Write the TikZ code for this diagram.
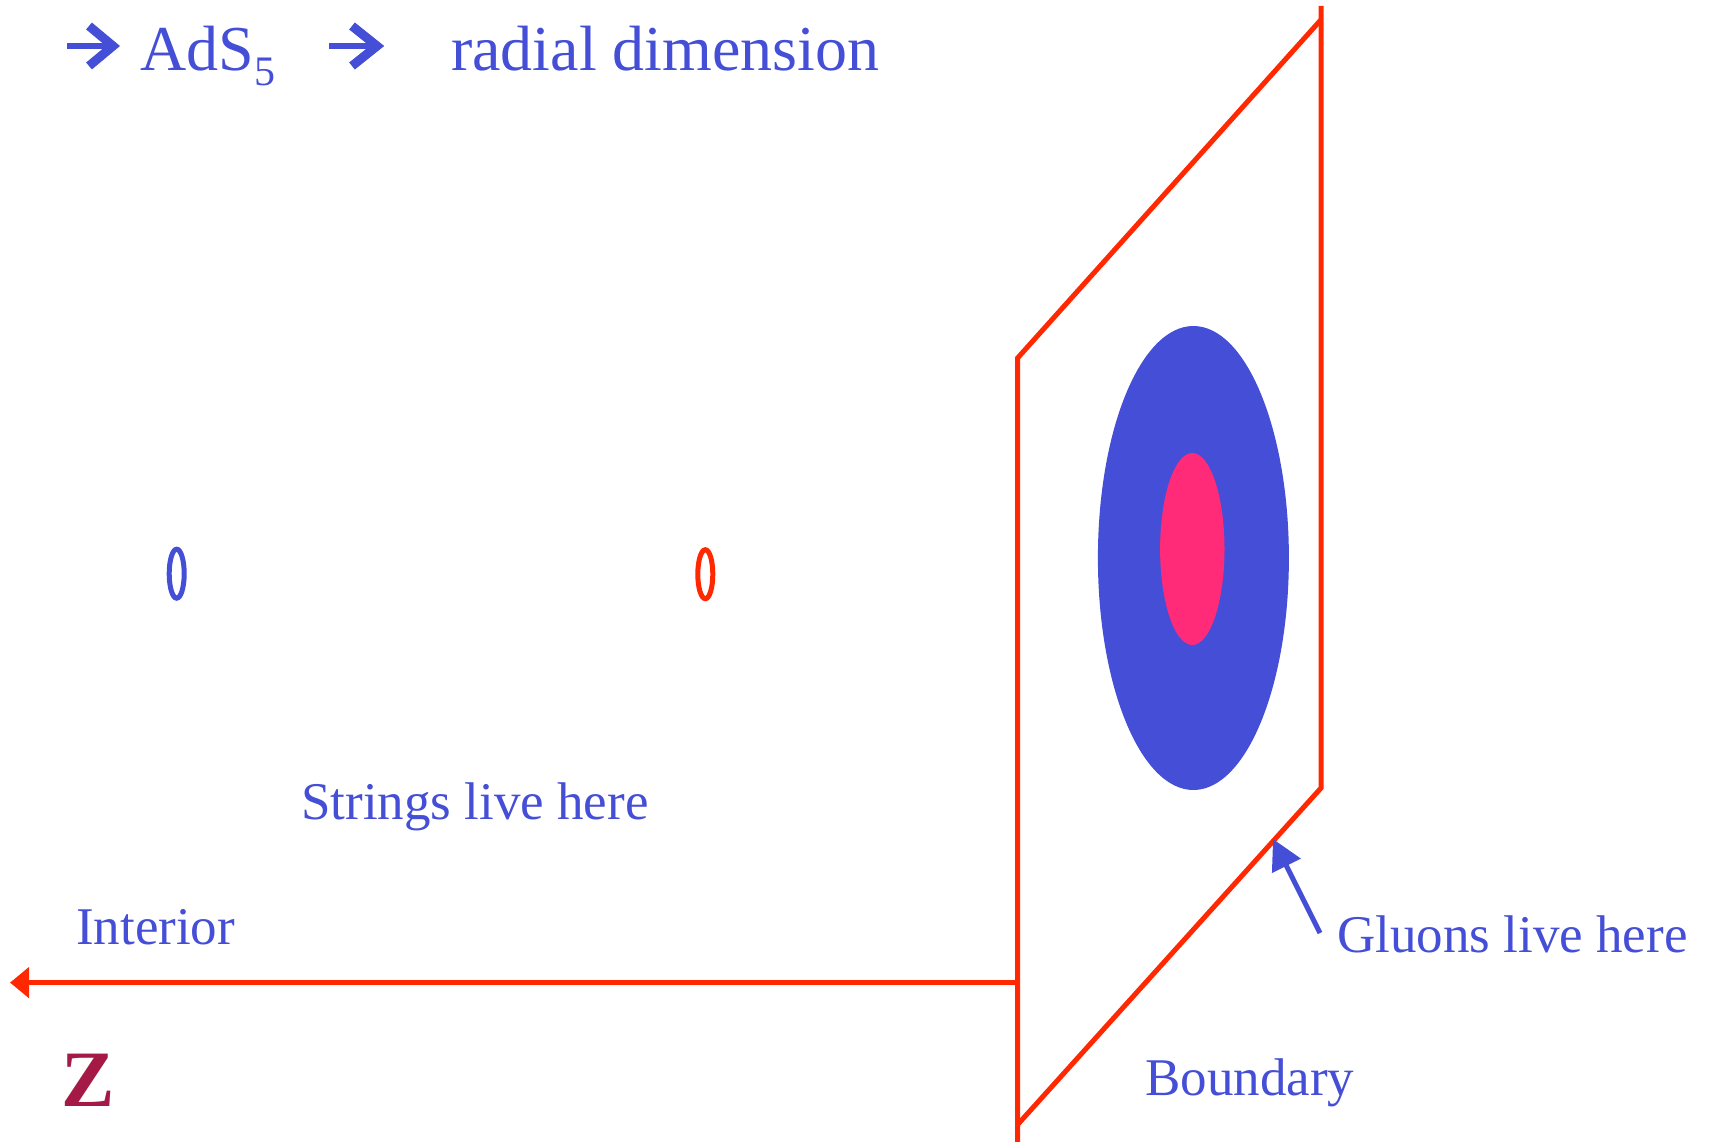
\documentclass[tikz,border=0pt]{standalone}
\usepackage{fontspec}
\setmainfont{Liberation Serif}
\usetikzlibrary{arrows.meta}
\definecolor{tblue}{RGB}{68,78,214}
\definecolor{tred}{RGB}{255,40,0}
\definecolor{tpink}{RGB}{255,42,120}
\definecolor{zcol}{RGB}{165,25,70}
\begin{document}
\begin{tikzpicture}[x=1pt,y=-1pt,
  redline/.style={draw=tred,line width=5pt},
  blueline/.style={draw=tblue,line width=5pt},
  lbl/.style={text=tblue,font=\fontsize{53}{60}\selectfont,anchor=base west,inner sep=0pt},
  toplbl/.style={text=tblue,font=\fontsize{64}{70}\selectfont,anchor=base west,inner sep=0pt},
  chevron/.style={draw=tblue,line width=9pt,line join=miter,miter limit=10},
  bar/.style={draw=tblue,line width=6.7pt}]
\useasboundingbox (0,0) rectangle (1712,1142);

% top line
\draw[bar] (67,46) -- (112,46);
\coordinate (c1a) at (89,26); \coordinate (c1b) at (113,46); \coordinate (c1c) at (89,66);
\draw[chevron] (c1a) -- (c1b) -- (c1c);
\node[toplbl] (ads) at (140,71) {AdS\raisebox{-15pt}{\fontsize{42}{42}\selectfont 5}};
\draw[bar] (329,46) -- (376,46);
\coordinate (c2a) at (352,26); \coordinate (c2b) at (377,46); \coordinate (c2c) at (352,66);
\draw[chevron] (c2a) -- (c2b) -- (c2c);
\node[toplbl] (radial) at (451,71) {radial dimension};

% boundary plane
\coordinate (lbot) at (1017.6,1142);
\coordinate (tl) at (1017.6,358);
\coordinate (tr) at (1321,19.7);
\coordinate (trtop) at (1321,6);
\coordinate (br) at (1321,788);
\coordinate (bl) at (1017.6,1124.6);
\draw[redline] (lbot) -- (tl) -- (tr);
\draw[redline] (trtop) -- (br) -- (bl);

% ellipses on the boundary
\fill[tblue] (1193.4,558) ellipse [x radius=95.5pt, y radius=232pt];
\fill[tpink] (1192.3,549) ellipse [x radius=32.2pt, y radius=96pt];

% small strings
\draw[blueline] (176.7,573.7) ellipse [x radius=7.5pt, y radius=24.5pt];
\draw[redline] (705.3,574.2) ellipse [x radius=7.5pt, y radius=24.5pt];

% z axis
\coordinate (zorig) at (1017.6,982.6);
\coordinate (ztip) at (10,982.6);
\draw[redline,-{Triangle[length=19pt,width=30pt]}] (zorig) -- (ztip);

% labels
\node[lbl] (strings) at (301,819) {Strings live here};
\node[lbl] (interior) at (76,944) {Interior};
\node[lbl] (gluons) at (1337,952) {Gluons live here};
\node[lbl] (boundary) at (1145,1095) {Boundary};
\node[text=zcol,font=\bfseries\fontsize{80}{80}\selectfont,anchor=base west,inner sep=0pt] (z) at (61,1106) {Z};

% gluon arrow
\coordinate (gtail) at (1320,933);
\coordinate (gtip) at (1273,839);
\draw[blueline,-{Triangle[length=30pt,width=31pt]}] (gtail) -- (gtip);
\end{tikzpicture}
\end{document}
